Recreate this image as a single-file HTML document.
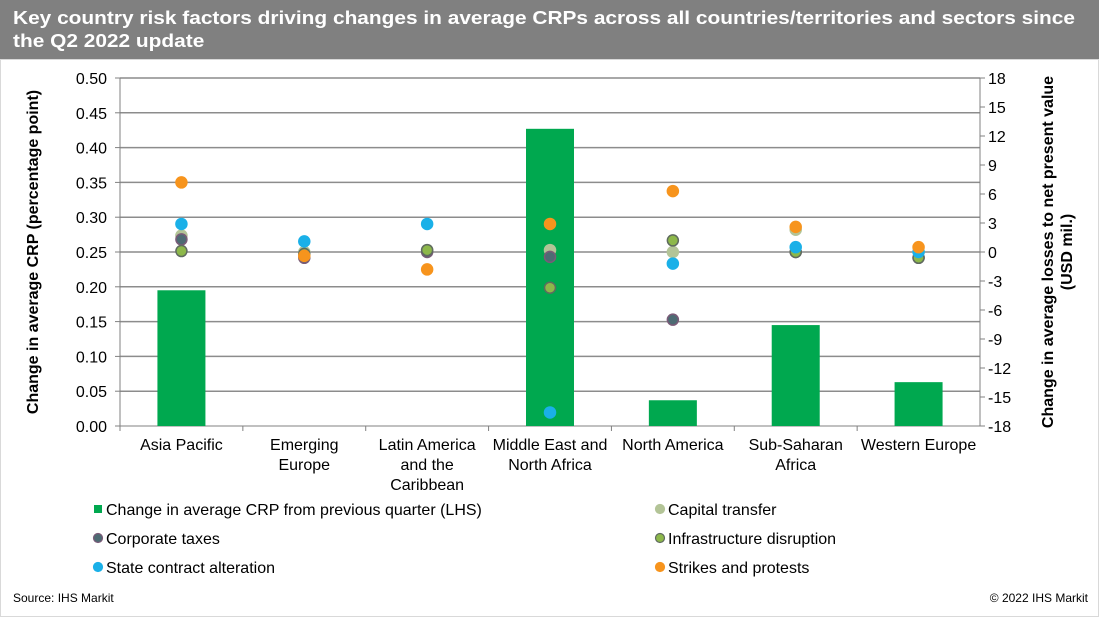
<!DOCTYPE html>
<html><head><meta charset="utf-8"><style>
body{margin:0;width:1099px;height:617px;background:#fff;font-family:"Liberation Sans",Arial,sans-serif;overflow:hidden;position:relative}
#hdr{position:absolute;left:0;top:0;width:1099px;height:59px;background:#808080;color:#fff;font-weight:bold;font-size:18px;line-height:23px;padding:7px 0 0 13px;box-sizing:border-box;white-space:nowrap}
#hdr span{display:inline-block;transform-origin:0 0}
svg{position:absolute;left:0;top:0}
</style></head><body>
<div id="hdr"><span id="l1">Key country risk factors driving changes in average CRPs across all countries/territories and sectors since</span><br><span id="l2">the Q2 2022 update</span></div>
<svg id="c" width="1099" height="617"></svg>
<script>
const categories=[["Asia Pacific"],["Emerging","Europe"],["Latin America","and the","Caribbean"],["Middle East and","North Africa"],["North America"],["Sub-Saharan","Africa"],["Western Europe"]];
const crpChange=[0.195,0,0,0.427,0.037,0.145,0.063];
const capitalTransfer=[1.7,0,0.2,0.2,0,2.3,0];
const corporateTaxes=[1.3,-0.6,0,-0.5,-7.0,0,-0.6];
const infraDisruption=[0.1,-0.2,0.2,-3.7,1.2,0,-0.6];
const stateContract=[2.9,1.1,2.9,-16.6,-1.2,0.5,0];
const strikes=[7.2,-0.4,-1.8,2.9,6.3,2.6,0.5];
const leftTicks=["0.00","0.05","0.10","0.15","0.20","0.25","0.30","0.35","0.40","0.45","0.50"];
const rightTicks=[-18,-15,-12,-9,-6,-3,0,3,6,9,12,15,18];

// stretch title line to match reference width
(function(){const l1=document.getElementById('l1'),l2=document.getElementById('l2');const w=l1.getBoundingClientRect().width;const s=1062/w;l1.style.transform='scaleX('+s+')';l2.style.transform='scaleX('+s+')';})();

const NS="http://www.w3.org/2000/svg",svg=document.getElementById('c');
const X0=120,X1=980,Y0=426,Y1=78;
const yL=v=>Y0-(v/0.5)*(Y0-Y1);
const yR=v=>Y0-((v+18)/36)*(Y0-Y1);
const band=(X1-X0)/categories.length;
const xC=i=>X0+band*(i+0.5);
function mk(t,a,txt){const e=document.createElementNS(NS,t);for(const k in a)e.setAttribute(k,a[k]);if(txt!=null)e.textContent=txt;svg.appendChild(e);return e;}
let e=mk('rect',{x:0.5,y:59.5,width:1098,height:557,fill:'none',stroke:'#d9d9d9'});


leftTicks.forEach((t,i)=>{const v=+t,y=yL(v);
 if(i>0){let g=mk('line',{x1:X0,x2:X1,y1:y,y2:y,stroke:'#8c8c8c','stroke-width':1.5});
 
 }
 mk('line',{x1:X0-5,x2:X0,y1:y,y2:y,stroke:'#808080'});
 let l=mk('text',{x:X0-13,y:y+6,'text-anchor':'end','font-size':16,fill:'#000'},t);
 
 
});
rightTicks.forEach(v=>{const y=yR(v);
 mk('line',{x1:X1,x2:X1+5,y1:y,y2:y,stroke:'#808080'});
 let l=mk('text',{x:X1+8,y:y+6,'font-size':16,fill:'#000'},String(v));
 
 
});
mk('line',{x1:X0,x2:X0,y1:Y1,y2:Y0,stroke:'#808080'});
mk('line',{x1:X1,x2:X1,y1:Y1,y2:Y0,stroke:'#808080'});
mk('line',{x1:X0,x2:X1,y1:Y0,y2:Y0,stroke:'#808080'});
categories.forEach((c,i)=>{
 mk('line',{x1:X0+band*i,x2:X0+band*i,y1:Y0,y2:Y0+5,stroke:'#808080'});
 c.forEach((s,j)=>{let t=mk('text',{x:xC(i),y:450+j*20,'text-anchor':'middle','font-size':16,fill:'#000'},s);
 
 });
 const bw=48;
 if(crpChange[i]>0){let b=mk('rect',{x:xC(i)-bw/2,y:yL(crpChange[i]),width:bw,height:Y0-yL(crpChange[i]),fill:'#00a84f'});
 
 }
});
const series=[[capitalTransfer,'#b3c497','#b3c497'],[corporateTaxes,'#4d6b73','#7a5b78'],[infraDisruption,'#8db84a','#5f6b5f'],[stateContract,'#1ab0e8','#1ab0e8'],[strikes,'#f7941d','#f7941d']];
series.forEach(([arr,f,s])=>arr.forEach((v,i)=>{let d=mk('circle',{cx:xC(i),cy:yR(v),r:5.5,fill:f,stroke:s,'stroke-width':1.5});
 
 }));
let a=mk('text',{transform:'translate(38,252) rotate(-90)','text-anchor':'middle','font-size':16,'font-weight':'bold'},'Change in average CRP (percentage point)');


let r=mk('text',{transform:'translate(1053,252) rotate(-90)','text-anchor':'middle','font-size':16,'font-weight':'bold'});


['Change in average losses to net present value','(USD mil.)'].forEach((s,j)=>{const ts=document.createElementNS(NS,'tspan');ts.setAttribute('x',0);ts.setAttribute('dy',j?19:0);ts.textContent=s;r.appendChild(ts);});
const legend=[['bar','#00a84f','#00a84f','Change in average CRP from previous quarter (LHS)',98,509],['dot','#b3c497','#b3c497','Capital transfer',660,509],['dot','#4d6b73','#7a5b78','Corporate taxes',98,538],['dot','#8db84a','#5f6b5f','Infrastructure disruption',660,538],['dot','#1ab0e8','#1ab0e8','State contract alteration',98,567],['dot','#f7941d','#f7941d','Strikes and protests',660,567]];
legend.forEach(([k,f,s,t,x,y])=>{
 let m=k==='bar'?mk('rect',{x:x-4,y:y-4,width:8,height:8,fill:f}):mk('circle',{cx:x,cy:y,r:4.5,fill:f,stroke:s,'stroke-width':1.2});
 
 
 let l=mk('text',{x:x+8,y:y+6,'font-size':16},t);
 
 
});
let s1=mk('text',{x:13,y:602,'font-size':12},'Source: IHS Markit');


let s2=mk('text',{x:1088,y:602,'font-size':12,'text-anchor':'end'},'© 2022 IHS Markit');


</script>
</body></html>
